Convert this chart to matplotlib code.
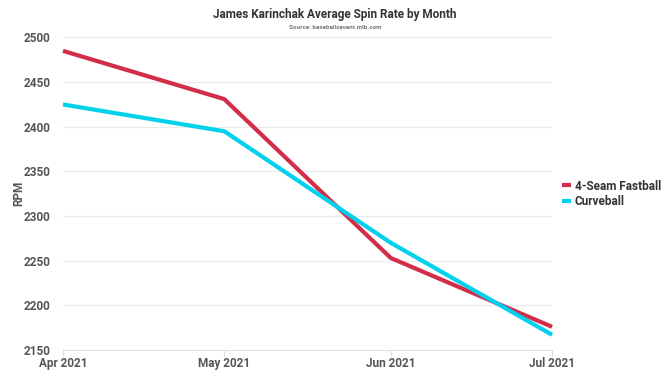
import matplotlib
matplotlib.use("Agg")
import matplotlib.pyplot as plt
import matplotlib.dates as mdates
import pandas as pd

# monthly average spin rate (rpm)
months = ["2021-04-01", "2021-05-01", "2021-06-01", "2021-07-01"]
fastball = [2485, 2431, 2253, 2176]
curveball = [2425, 2395, 2270, 2167]
tick_labels = ["Apr 2021", "May 2021", "Jun 2021", "Jul 2021"]

dates = pd.to_datetime(months)

plt.rcParams["font.family"] = ["Roboto", "DejaVu Sans"]
plt.rcParams["font.weight"] = "bold"

fig = plt.figure(figsize=(6.7, 3.77), dpi=100)
ax = fig.add_axes([0.094, 0.0716, 0.73, 0.829])

ax.plot(dates, fastball, color="#D22D49", lw=3, label="4-Seam Fastball",
        solid_capstyle="butt", clip_on=False)
ax.plot(dates, curveball, color="#00D1ED", lw=3, label="Curveball",
        solid_capstyle="butt", clip_on=False)

ax.set_xlim(dates[0], dates[-1])
ax.set_ylim(2150, 2500)
ax.set_yticks(range(2150, 2501, 50))
ax.set_xticks(dates)
ax.set_xticklabels(tick_labels)

ax.grid(axis="y", color="#ebebeb", lw=0.8)
ax.set_axisbelow(True)
for s in ["top", "right", "left"]:
    ax.spines[s].set_visible(False)
ax.spines["bottom"].set_color("#dde0ea")
ax.tick_params(axis="y", length=0, pad=9, labelsize=8.5, labelcolor="#555555")
ax.tick_params(axis="x", length=4, color="#dde0ea", pad=1, labelsize=8.5,
               labelcolor="#555555")

ax.set_ylabel("RPM", fontsize=8.5, color="#555555", labelpad=-1,
              fontweight="bold")

fig.text(0.5, 0.962, "James Karinchak Average Spin Rate by Month", ha="center",
         va="center", fontsize=8.5, color="#333333", fontweight="bold")
fig.text(0.5, 0.928, "Source: baseballsavant.mlb.com", ha="center",
         va="center", fontsize=4.5, color="#777777", fontweight="bold")

leg = ax.legend(loc="center left", bbox_to_anchor=(1.01, 0.5), frameon=False,
                fontsize=8.5, handlelength=0.8, handletextpad=0.3,
                labelspacing=0.2, borderaxespad=0)
for t in leg.get_texts():
    t.set_color("#333333")

fig.savefig("out.png", dpi=100)
